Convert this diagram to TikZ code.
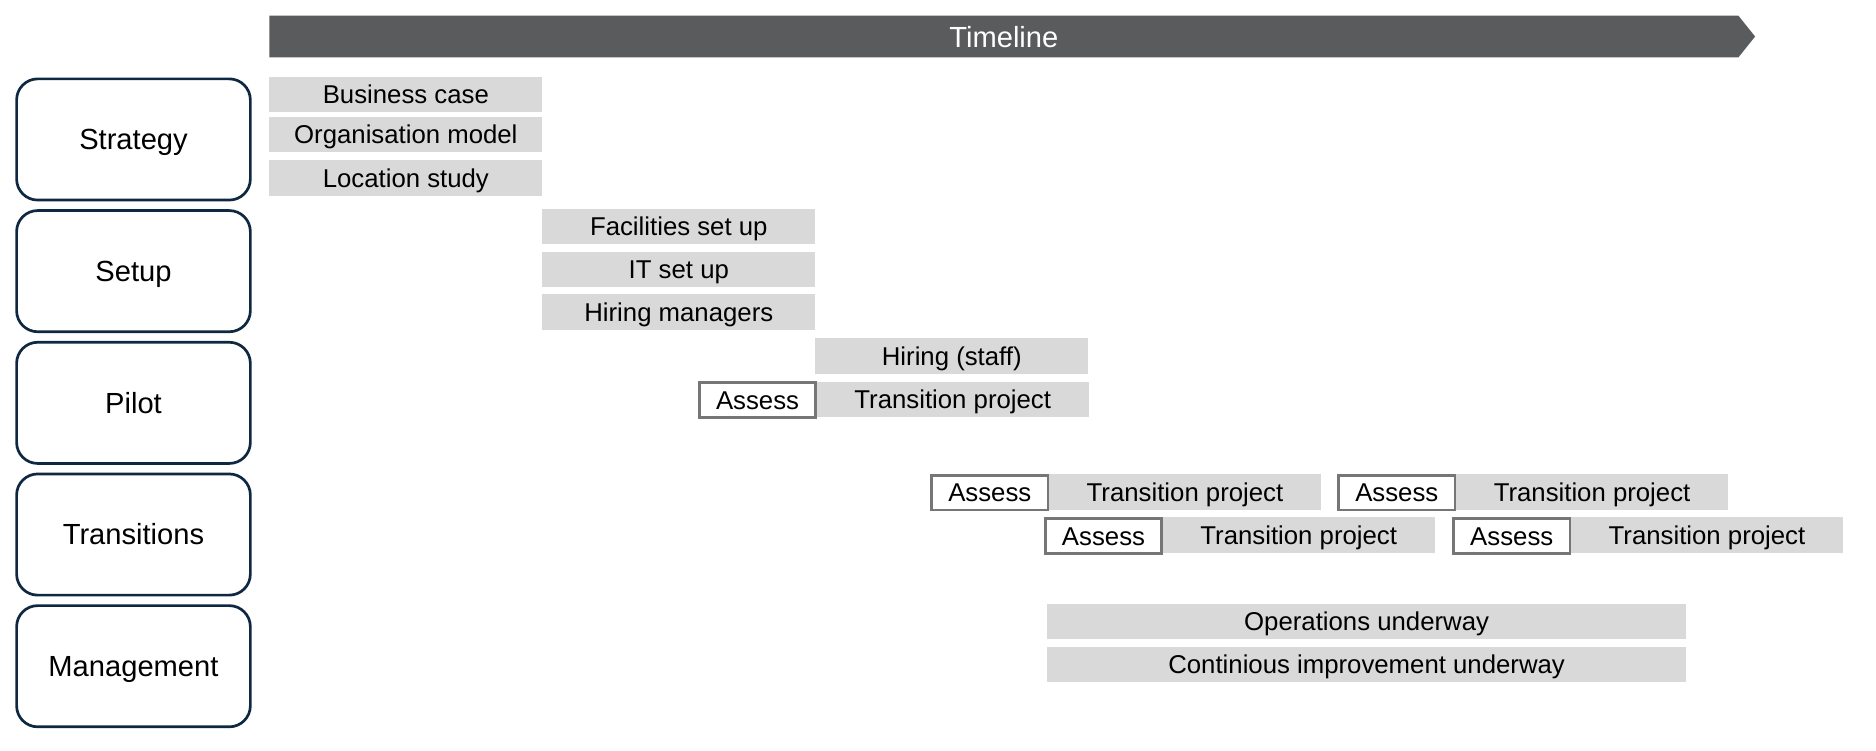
\documentclass[tikz,border=0pt]{standalone}
\usepackage{fontspec}
\setmainfont{Liberation Sans}
\definecolor{taskgray}{HTML}{D9D9D9}
\definecolor{timelinegray}{HTML}{5A5B5D}
\definecolor{assessline}{HTML}{767676}
\definecolor{phaseline}{HTML}{0E2841}
\newcommand{\taskfont}{\fontsize{15.3}{18}\selectfont}
\newcommand{\phasefont}{\fontsize{17.3}{20}\selectfont}
\tikzset{
 phase/.style={draw=phaseline, line width=1.6pt, rounded corners=0.44cm,
   minimum width=4.88cm, minimum height=2.53cm, font=\phasefont,
   text height=12.4pt, text depth=0pt},
 task/.style={fill=taskgray, inner sep=0pt, minimum height=0.74cm,
   font=\taskfont, text height=11pt, text depth=0pt},
 assess/.style={draw=assessline, fill=white, line width=1.6pt, inner sep=0pt,
   minimum width=2.43cm, minimum height=0.73cm,
   font=\taskfont, text height=11pt, text depth=0pt},
 }

\begin{document}
\begin{tikzpicture}[x=0.025cm, y=-0.025cm]
        \useasboundingbox (0,0) rectangle (1567,626.5);
        % timeline arrow
        \fill [timelinegray] (225,13) -- (1452,13) -- (1466,30.5) -- (1452,48) -- (225,48) -- cycle;
        \node [white, font=\phasefont, text height=12.5pt, text depth=0pt] (timeline) at (838.5,30.5) {Timeline};
        % phases
        \foreach \name [count=\i] in {Strategy,Setup,Pilot,Transitions,Management}
            \node [phase] (phase\i) at (111.5,{116.5+110*(\i-1)}) {\name};
        % strategy
        \node [task, minimum width=5.7cm] (bizcase) at (339,79) {Business case};
        \node [task, minimum width=5.7cm] (orgmodel) at (339,112.5) {Organisation model};
        \node [task, minimum width=5.7cm] (locstudy) at (339,148.5) {Location study};
        % setup
        \node [task, minimum width=5.7cm] (facilities) at (567,189) {Facilities set up};
        \node [task, minimum width=5.7cm] (itsetup) at (567,225) {IT set up};
        \node [task, minimum width=5.7cm] (hiringmgr) at (567,260.5) {Hiring managers};
        % pilot
        \node [task, minimum width=5.7cm] (hiringstaff) at (795,297.5) {Hiring (staff)};
        \node [task, minimum width=5.675cm, anchor=west] (pilottrans) at (682,333.5) {Transition project};
        \node [assess, anchor=west] (pilotassess) at (583,334) {Assess};
        % transitions
        \foreach \x/\y/\n in {777/411/a, 872/447/b, 1117/411/c, 1213/447/d} {
            \node [task, minimum width=5.675cm, anchor=west] (ttrans\n) at (\x+99,\y) {Transition project};
            \node [assess, anchor=west] (tassess\n) at (\x,\y+0.5) {Assess};
        }
        % management
        \node [task, minimum width=13.325cm] (operations) at (1141.5,519) {Operations underway};
        \node [task, minimum width=13.325cm] (improvement) at (1141.5,555) {Continious improvement underway};
    \end{tikzpicture}
\end{document}
